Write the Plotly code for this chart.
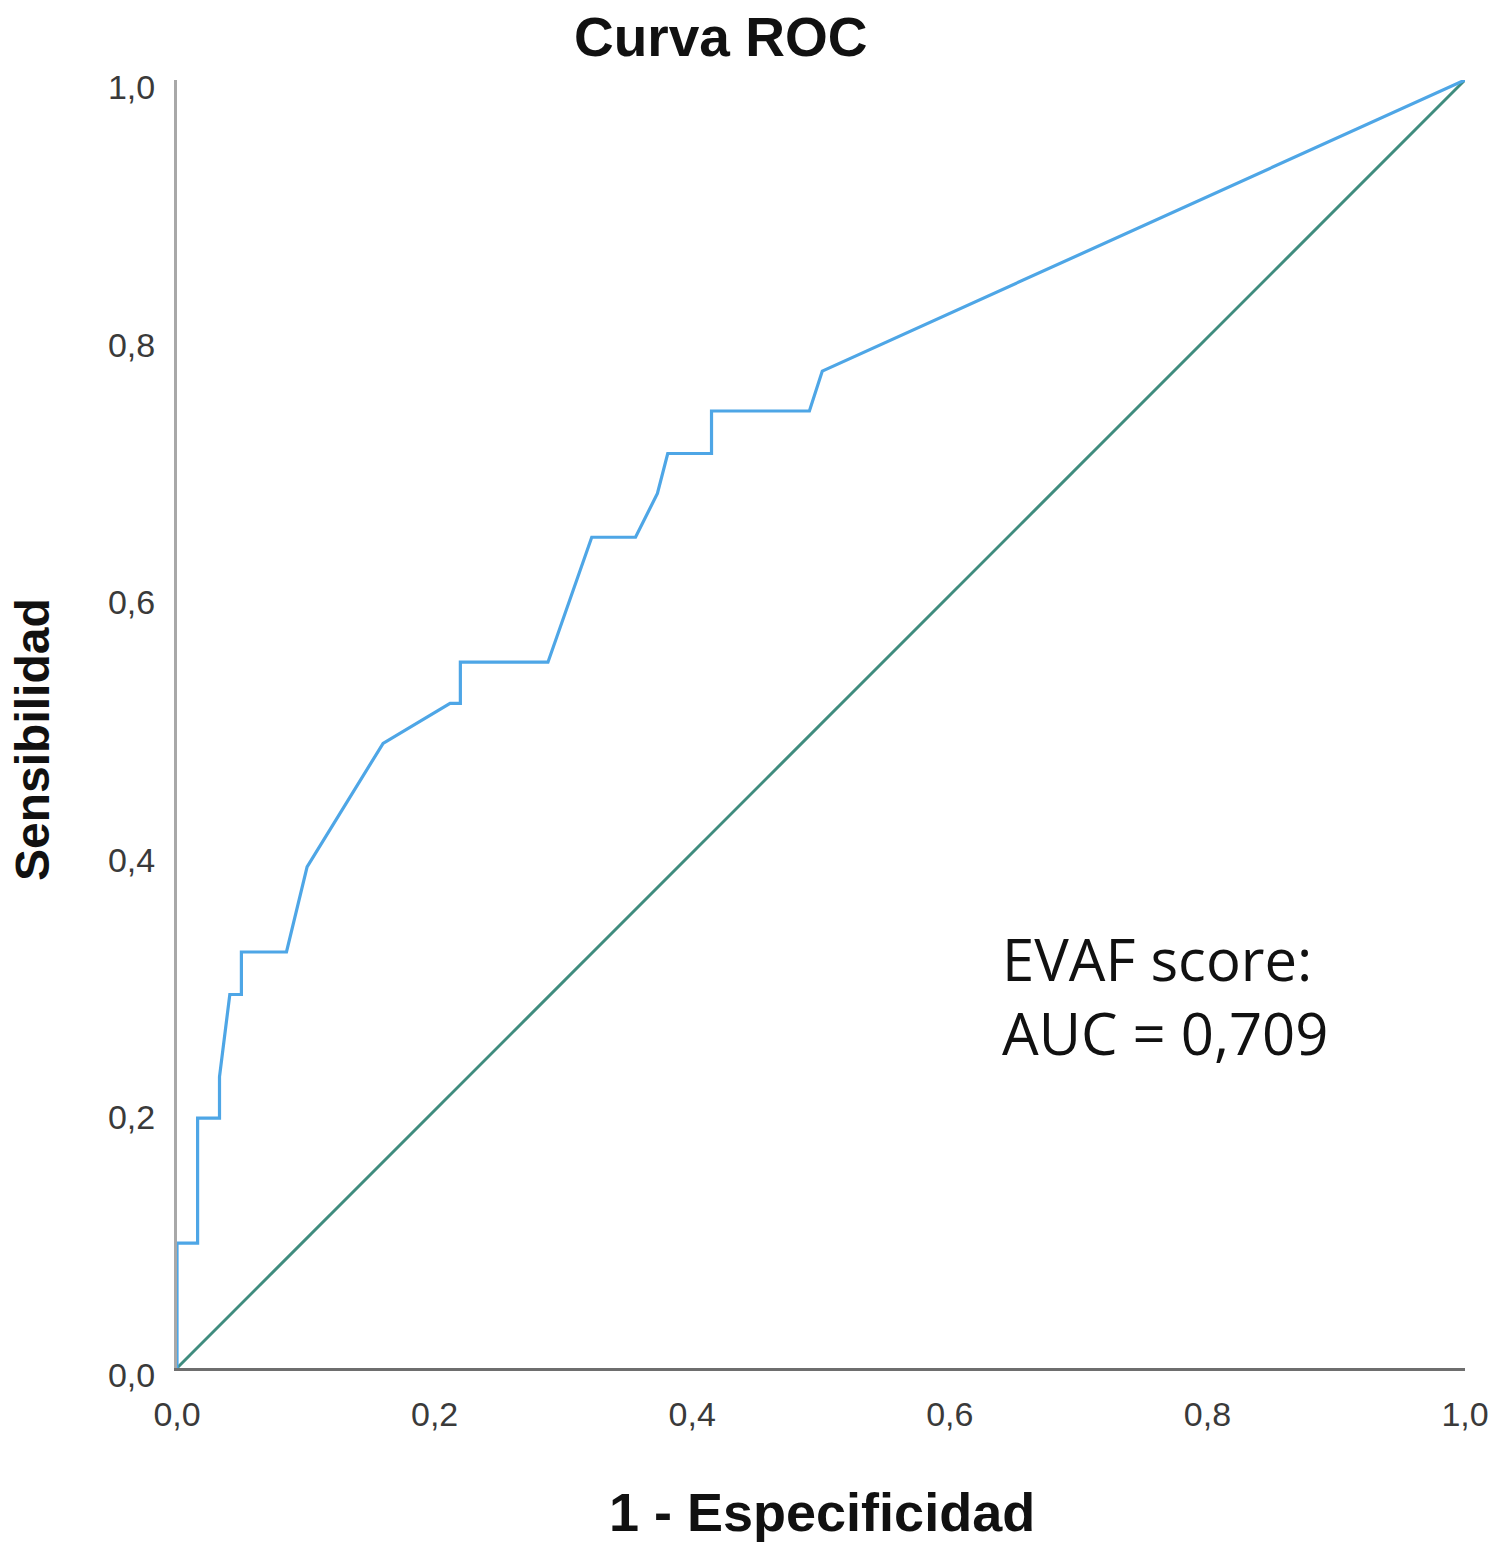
import plotly.graph_objects as go

# ROC curve points (1 - Especificidad, Sensibilidad)
fpr = [0.0, 0.0, 0.016, 0.016, 0.033, 0.033, 0.041, 0.050, 0.050, 0.085,
       0.101, 0.160, 0.212, 0.220, 0.220, 0.288, 0.322, 0.356, 0.373, 0.381,
       0.415, 0.415, 0.491, 0.501, 1.0]
tpr = [0.0, 0.097, 0.097, 0.194, 0.194, 0.226, 0.290, 0.290, 0.323, 0.323,
       0.389, 0.485, 0.516, 0.516, 0.548, 0.548, 0.645, 0.645, 0.679, 0.710,
       0.710, 0.743, 0.743, 0.774, 1.0]
ref_x = [0.0, 1.0]
ref_y = [0.0, 1.0]

tick_vals = [0.0, 0.2, 0.4, 0.6, 0.8, 1.0]
tick_text = ["0,0", "0,2", "0,4", "0,6", "0,8", "1,0"]

title_text = "Curva ROC"
x_title = "1 - Especificidad"
y_title = "Sensibilidad"
note_lines = ["EVAF score:", "AUC = 0,709"]

W, H = 1500, 1551
L, R, T, B = 177, 35, 80, 183
PW = W - L - R
PH = H - T - B


def px_x(p):
    return (p - L) / PW


def px_y(p):
    return (H - B - p) / PH


fig = go.Figure()
fig.add_trace(go.Scatter(x=ref_x, y=ref_y, mode="lines",
                         line=dict(color="#3f8c7e", width=3),
                         hoverinfo="skip", showlegend=False))
fig.add_trace(go.Scatter(x=fpr, y=tpr, mode="lines",
                         line=dict(color="#4ea6e6", width=3.2),
                         showlegend=False))

axis_font = dict(family="Liberation Sans, Arial", size=34, color="#3a3a3a")
fig.update_layout(
    width=W, height=H,
    margin=dict(l=L, r=R, t=T, b=B),
    paper_bgcolor="white", plot_bgcolor="white",
    xaxis=dict(range=[0, 1], tickvals=tick_vals, ticktext=tick_text,
               showgrid=False, zeroline=False, showline=True,
               linecolor="#6e6e6e", linewidth=3, ticks="",
               tickfont=axis_font, ticklabelstandoff=14,
               layer="below traces", fixedrange=True),
    yaxis=dict(range=[0, 1], tickvals=tick_vals, ticktext=tick_text,
               showgrid=False, zeroline=False, showline=True,
               linecolor="#a8a8a8", linewidth=3, ticks="",
               tickfont=axis_font, ticklabelstandoff=12,
               ticklabelshift=7,
               layer="below traces", fixedrange=True),
)

bold = "Liberation Sans, Arial"
ann = [
    dict(text="<b>" + title_text + "</b>", x=px_x(720), y=px_y(37),
         xanchor="center", yanchor="middle",
         font=dict(family=bold, size=55, color="#111111")),
    dict(text="<b>" + x_title + "</b>", x=px_x(822), y=px_y(1512),
         xanchor="center", yanchor="middle",
         font=dict(family=bold, size=54, color="#111111")),
    dict(text="<b>" + y_title + "</b>", x=px_x(32), y=px_y(740),
         xanchor="center", yanchor="middle", textangle=-90,
         font=dict(family=bold, size=48, color="#111111")),
    dict(text=note_lines[0], x=px_x(1000), y=px_y(958),
         xanchor="left", yanchor="middle",
         font=dict(family="Open Sans", size=58, color="#111111")),
    dict(text=note_lines[1], x=px_x(1000), y=px_y(1032),
         xanchor="left", yanchor="middle",
         font=dict(family="Open Sans", size=58, color="#111111")),
]
for a in ann:
    a.update(xref="paper", yref="paper", showarrow=False)
fig.update_layout(annotations=ann)

fig.write_html("out.html")
